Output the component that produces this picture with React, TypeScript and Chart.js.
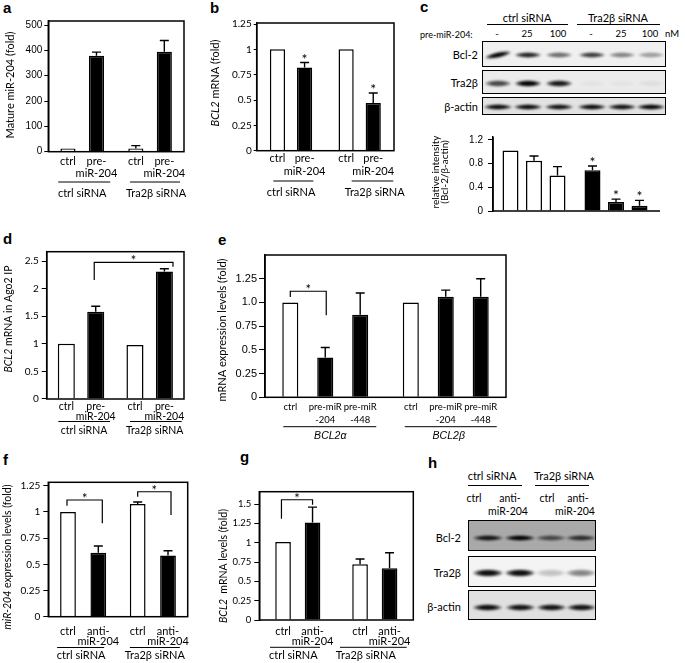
import React, { useEffect, useRef } from 'react';
import { Chart, registerables } from 'chart.js';
Chart.register(...registerables);

const PAGE_W = 685;
const PAGE_H = 663;
const SANS = 'Lato, "Open Sans", sans-serif';
const ARIAL = '"Liberation Sans", Arial, sans-serif';
const Y_AXIS_W = 40;

// ================= DATA =================
const siRNAGroups = ['ctrl siRNA', 'Tra2β siRNA'];

// panel a
const aCtrlValues = [13, 13];
const aCtrlErrors = [0, 11];
const aPreValues = [379, 395];
const aPreErrors = [14, 44];
const aTicks = [0, 100, 200, 300, 400, 500];
const aTickLabels = ['0', '100', '200', '300', '400', '500'];

// panel b
const bCtrlValues = [1.0, 1.0];
const bPreValues = [0.82, 0.47];
const bPreErrors = [0.05, 0.1];
const bPreSignif = [true, true];
const bTicks = [0, 0.25, 0.5, 0.75, 1, 1.25];
const bTickLabels = ['0', '0.25', '0.5', '0.75', '1', '1.25'];

// panel c (densitometry + blots)
const cLaneDoses = ['-', '25', '100', '-', '25', '100'];
const cDose0Values = [1.02, 0.69];
const cDose0Errors = [0, 0.07];
const cDose25Values = [0.85, 0.15];
const cDose25Errors = [0.08, 0.05];
const cDose100Values = [0.6, 0.09];
const cDose100Errors = [0.15, 0.09];
const cSignif = [false, true];
const cTicks = [0, 0.4, 0.8, 1.2];
const cTickLabels = ['0', '0.4', '0.8', '1.2'];
const cBcl2Bands = [1.0, 0.85, 0.55, 0.75, 0.45, 0.35];
const cTra2bBands = [0.7, 1.0, 0.9, 0.03, 0.03, 0.05];
const cActinBands = [0.95, 0.95, 0.92, 0.95, 0.92, 0.97];

// panel d
const dCtrlValues = [1.0, 0.98];
const dPreValues = [1.58, 2.31];
const dPreErrors = [0.1, 0.05];
const dTicks = [0, 0.5, 1, 1.5, 2, 2.5];
const dTickLabels = ['0', '0.5', '1', '1.5', '2', '2.5'];

// panel e
const eGroups = ['BCL2α', 'BCL2β'];
const eCtrlValues = [1.0, 1.0];
const ePre204Values = [0.42, 1.06];
const ePre204Errors = [0.105, 0.07];
const ePre448Values = [0.87, 1.06];
const ePre448Errors = [0.23, 0.19];
const eTicks = [0, 0.25, 0.5, 0.75, 1.0, 1.25];
const eTickLabels = ['0', '0.25', '0.5', '0.75', '1.0', '1.25'];

// panel f
const fCtrlValues = [1.0, 1.075];
const fCtrlErrors = [0, 0.02];
const fAntiValues = [0.61, 0.585];
const fAntiErrors = [0.065, 0.045];
const fTicks = [0, 0.25, 0.5, 0.75, 1, 1.25];
const fTickLabels = ['0', '0.25', '0.5', '0.75', '1', '1.25'];

// panel g
const gCtrlValues = [1.01, 0.72];
const gCtrlErrors = [0, 0.07];
const gAntiValues = [1.26, 0.67];
const gAntiErrors = [0.2, 0.2];
const gTicks = [0, 0.25, 0.5, 0.75, 1, 1.25, 1.5];
const gTickLabels = ['0', '0.25', '0.5', '0.75', '1', '1.25', '1.5'];

// panel h (blots)
const hBcl2Bands = [0.9, 1.0, 0.6, 0.75];
const hTra2bBands = [0.95, 0.95, 0.2, 0.45];
const hActinBands = [0.95, 0.92, 0.92, 0.92];

// ================= TYPES =================
type Seg = { t: string; i?: boolean };
type SeriesCfg = {
  values: number[];
  errors?: number[];
  fill: string | string[];
  label?: string[];
  stars?: boolean[];
};
type Bracket = { a: [number, number, number]; b: [number, number, number]; yA: number; yTop: number; yB: number };
type PanelCfg = {
  plot: [number, number, number, number];
  yMax: number;
  ticks: number[];
  tickLabels: string[];
  tickFont: string;
  tickSize: number;
  tickLen: number;
  tickPad: number;
  groups: string[];
  groupItalic?: boolean;
  groupFont?: string;
  series: SeriesCfg[];
  catPct: number;
  barPct: number;
  labelY?: number[];
  labelSize?: number;
  groupSize?: number;
  groupLineY?: number;
  groupLabelY?: number;
  groupLines?: [number, number][];
  groupDx?: number[];
  frame: 'box' | 'axes';
  axisRight?: number;
  brackets?: Bracket[];
  yTitle: { x: number; y: number; lines: Seg[][]; gap?: number; size: number };
  cap?: number;
};

// ================= PANEL CONFIGS =================
const panelA: PanelCfg = {
  plot: [48.3, 21, 184, 151.7],
  yMax: 516, ticks: aTicks, tickLabels: aTickLabels, tickFont: ARIAL, tickSize: 10, tickLen: 4, tickPad: 2,
  groups: siRNAGroups,
  series: [
    { values: aCtrlValues, errors: aCtrlErrors, fill: '#fff', label: ['ctrl'] },
    { values: aPreValues, errors: aPreErrors, fill: '#000', label: ['pre-', 'miR-204'] },
  ],
  catPct: 0.84, barPct: 0.53,
  labelY: [161.7, 173.3], groupLineY: 182, groupLabelY: 193,
  groupLines: [[-24, 28], [-20, 30]], groupDx: [0, 6],
  frame: 'box',
  yTitle: { x: 10, y: 85, lines: [[{ t: 'Mature miR-204 (fold)' }]], size: 11 },
};

const panelB: PanelCfg = {
  plot: [256.7, 23, 394, 150.7],
  yMax: 1.26, ticks: bTicks, tickLabels: bTickLabels, tickFont: SANS, tickSize: 10, tickLen: 3, tickPad: 2,
  groups: siRNAGroups,
  series: [
    { values: bCtrlValues, fill: '#fff', label: ['ctrl'] },
    { values: bPreValues, errors: bPreErrors, fill: '#000', label: ['pre-', 'miR-204'], stars: bPreSignif },
  ],
  catPct: 0.79, barPct: 0.56,
  labelY: [158.3, 171.7], groupLineY: 181, groupLabelY: 192.7,
  groupLines: [[-17.7, 22.3], [-8, 33.6]], groupDx: [0, 15],
  frame: 'box',
  yTitle: { x: 215, y: 83, lines: [[{ t: 'BCL2', i: true }, { t: ' mRNA (fold)' }]], size: 11 },
};

const panelC: PanelCfg = {
  plot: [493, 137, 657, 211],
  yMax: 1.25, ticks: cTicks, tickLabels: cTickLabels, tickFont: ARIAL, tickSize: 10, tickLen: 5, tickPad: 5,
  groups: siRNAGroups,
  series: [
    { values: cDose0Values, errors: cDose0Errors, fill: ['#fff', '#000'], stars: cSignif },
    { values: cDose25Values, errors: cDose25Errors, fill: ['#fff', '#000'], stars: cSignif },
    { values: cDose100Values, errors: cDose100Errors, fill: ['#fff', '#000'], stars: cSignif },
  ],
  catPct: 0.86, barPct: 0.68,
  frame: 'axes', axisRight: 660,
  yTitle: { x: 436, y: 172, lines: [[{ t: 'relative intensity' }], [{ t: '(Bcl-2/β-actin)' }]], gap: 9, size: 10 },
};

const panelD: PanelCfg = {
  plot: [46.7, 251.7, 184, 399],
  yMax: 2.67, ticks: dTicks, tickLabels: dTickLabels, tickFont: SANS, tickSize: 10, tickLen: 5, tickPad: 3,
  groups: siRNAGroups,
  series: [
    { values: dCtrlValues, fill: '#fff', label: ['ctrl'] },
    { values: dPreValues, errors: dPreErrors, fill: '#000', label: ['pre-', 'miR-204'] },
  ],
  catPct: 0.857, barPct: 0.58,
  labelY: [406.7, 416.7], labelSize: 10.5, groupLineY: 421.5, groupLabelY: 430.7,
  groupLines: [[-22.7, 29], [-19.7, 32]], groupDx: [3, 5],
  frame: 'box',
  brackets: [{ a: [0, 1, -1.5], b: [1, 1, 8.6], yA: 2.156, yTop: 2.476, yB: 2.397 }],
  yTitle: { x: 9, y: 319, lines: [[{ t: 'BCL2', i: true }, { t: ' mRNA in Ago2 IP' }]], size: 10.5 },
};

const panelE: PanelCfg = {
  plot: [265, 255, 506, 397.3],
  yMax: 1.5, ticks: eTicks, tickLabels: eTickLabels, tickFont: ARIAL, tickSize: 11, tickLen: 6, tickPad: 2,
  groups: eGroups, groupItalic: true, groupFont: ARIAL,
  series: [
    { values: eCtrlValues, fill: '#fff', label: ['ctrl'] },
    { values: ePre204Values, errors: ePre204Errors, fill: '#000', label: ['pre-miR', '-204'] },
    { values: ePre448Values, errors: ePre448Errors, fill: '#000', label: ['pre-miR', '-448'] },
  ],
  catPct: 0.87, barPct: 0.46,
  labelY: [406.7, 420], labelSize: 9.5, groupSize: 10.5, groupLineY: 426.7, groupLabelY: 436,
  groupLines: [[-42, 51], [-41, 51]], groupDx: [5, 3],
  frame: 'box',
  brackets: [{ a: [0, 0, 0], b: [0, 1, 1], yA: 1.056, yTop: 1.118, yB: 0.864 }],
  yTitle: { x: 222, y: 330, lines: [[{ t: 'mRNA expression levels (fold)' }]], size: 11 },
};

const panelF: PanelCfg = {
  plot: [48.3, 482.3, 187.7, 616.7],
  yMax: 1.283, ticks: fTicks, tickLabels: fTickLabels, tickFont: SANS, tickSize: 10, tickLen: 5, tickPad: 3,
  groups: siRNAGroups,
  series: [
    { values: fCtrlValues, errors: fCtrlErrors, fill: '#fff', label: ['ctrl'] },
    { values: fAntiValues, errors: fAntiErrors, fill: '#000', label: ['anti-', 'miR-204'] },
  ],
  catPct: 0.87, barPct: 0.52,
  labelY: [631.7, 641.7], groupLineY: 647.5, groupLabelY: 655.5,
  groupLines: [[-26, 21], [-23, 27]], groupDx: [-2, 2],
  frame: 'box',
  brackets: [
    { a: [0, 0, -1], b: [0, 1, 4], yA: 1.059, yTop: 1.114, yB: 0.891 },
    { a: [1, 0, 0], b: [1, 1, 3], yA: 1.145, yTop: 1.193, yB: 0.97 },
  ],
  yTitle: { x: 8, y: 557, lines: [[{ t: 'miR-204', i: true }, { t: ' expression levels (fold)' }]], size: 10.5 },
};

const panelG: PanelCfg = {
  plot: [259.3, 491.7, 413.3, 620],
  yMax: 1.66, ticks: gTicks, tickLabels: gTickLabels, tickFont: SANS, tickSize: 9.5, tickLen: 5, tickPad: 3,
  groups: siRNAGroups,
  series: [
    { values: gCtrlValues, errors: gCtrlErrors, fill: '#fff', label: ['ctrl'] },
    { values: gAntiValues, errors: gAntiErrors, fill: '#000', label: ['anti-', 'miR-204'] },
  ],
  catPct: 0.766, barPct: 0.53,
  labelY: [631.7, 641.7], groupLineY: 647.3, groupLabelY: 655.5,
  groupLines: [[-27.8, 22.2], [-34.8, 31.9]], groupDx: [-4.5, -9],
  frame: 'box',
  brackets: [{ a: [0, 0, -1.6], b: [0, 1, 0], yA: 1.31, yTop: 1.556, yB: 1.49 }],
  yTitle: { x: 224, y: 566, lines: [[{ t: 'BCL2', i: true }, { t: '  mRNA levels (fold)' }]], size: 10.5 },
};

// ================= CHART PANEL =================
function BarPanel({ cfg }: { cfg: PanelCfg }) {
  const ref = useRef<HTMLCanvasElement>(null);
  useEffect(() => {
    const [pl, pt, pr, pb] = cfg.plot;
    const decor = {
      id: 'panelDecor',
      afterDatasetsDraw(chart: any) {
        const ctx: CanvasRenderingContext2D = chart.ctx;
        const ca = chart.chartArea;
        const ys = chart.scales.y;
        const xs = chart.scales.x;
        const cap = cfg.cap ?? 4.5;
        ctx.save();
        ctx.strokeStyle = '#000';
        ctx.fillStyle = '#000';
        // frame
        ctx.lineWidth = 1.5;
        if (cfg.frame === 'box') {
          ctx.strokeRect(ca.left, ca.top, ca.right - ca.left, ca.bottom - ca.top);
        } else {
          ctx.beginPath();
          ctx.moveTo(ca.left, ca.top);
          ctx.lineTo(ca.left, ca.bottom);
          ctx.lineTo(cfg.axisRight ?? ca.right, ca.bottom);
          ctx.stroke();
        }
        // error bars, stars, bar labels
        cfg.series.forEach((s, si) => {
          const meta = chart.getDatasetMeta(si);
          s.values.forEach((v, i) => {
            const el: any = meta.data[i];
            const x = el.x;
            const err = s.errors ? s.errors[i] : 0;
            const yTop = ys.getPixelForValue(v + err);
            if (err > 0) {
              ctx.lineWidth = 1.4;
              ctx.beginPath();
              ctx.moveTo(x, ys.getPixelForValue(v));
              ctx.lineTo(x, yTop);
              ctx.moveTo(x - cap, yTop);
              ctx.lineTo(x + cap, yTop);
              ctx.stroke();
            }
            if (s.stars && s.stars[i]) {
              ctx.font = `14px ${SANS}`;
              ctx.textAlign = 'center';
              ctx.textBaseline = 'alphabetic';
              ctx.fillText('*', x, yTop + 1);
            }
            if (s.label && cfg.labelY) {
              ctx.font = `${cfg.labelSize ?? 11}px ${SANS}`;
              ctx.textAlign = 'center';
              ctx.textBaseline = 'middle';
              s.label.forEach((ln, li) => ctx.fillText(ln, x, cfg.labelY![li]));
            }
          });
        });
        // group lines + labels
        if (cfg.groupLines && cfg.groupLineY !== undefined) {
          cfg.groups.forEach((g, gi) => {
            const cx = xs.getPixelForValue(gi);
            const [d0, d1] = cfg.groupLines![gi];
            ctx.lineWidth = 1;
            ctx.beginPath();
            ctx.moveTo(cx + d0, cfg.groupLineY!);
            ctx.lineTo(cx + d1, cfg.groupLineY!);
            ctx.stroke();
            ctx.font = `${cfg.groupItalic ? 'italic ' : ''}${cfg.groupSize ?? cfg.labelSize ?? 11}px ${cfg.groupFont ?? SANS}`;
            ctx.textAlign = 'center';
            ctx.textBaseline = 'middle';
            ctx.fillText(g, cx + (cfg.groupDx ? cfg.groupDx[gi] : 0), cfg.groupLabelY!);
          });
        }
        // significance brackets
        (cfg.brackets || []).forEach((b) => {
          const xa = chart.getDatasetMeta(b.a[1]).data[b.a[0]].x + b.a[2];
          const xb = chart.getDatasetMeta(b.b[1]).data[b.b[0]].x + b.b[2];
          const yt = ys.getPixelForValue(b.yTop);
          ctx.lineWidth = 1.2;
          ctx.beginPath();
          ctx.moveTo(xa, ys.getPixelForValue(b.yA));
          ctx.lineTo(xa, yt);
          ctx.lineTo(xb, yt);
          ctx.lineTo(xb, ys.getPixelForValue(b.yB));
          ctx.stroke();
          ctx.font = `13px ${SANS}`;
          ctx.textAlign = 'center';
          ctx.textBaseline = 'alphabetic';
          ctx.fillText('*', (xa + xb) / 2, yt + 3);
        });
        // y title (rotated, mixed italic)
        const t = cfg.yTitle;
        ctx.translate(t.x, t.y);
        ctx.rotate(-Math.PI / 2);
        ctx.textBaseline = 'middle';
        ctx.textAlign = 'left';
        t.lines.forEach((segs, li) => {
          const fontOf = (s: Seg) => `${s.i ? 'italic ' : ''}${t.size}px ${SANS}`;
          let total = 0;
          segs.forEach((s) => {
            ctx.font = fontOf(s);
            total += ctx.measureText(s.t).width;
          });
          let cur = -total / 2;
          segs.forEach((s) => {
            ctx.font = fontOf(s);
            ctx.fillText(s.t, cur, li * (t.gap ?? 10));
            cur += ctx.measureText(s.t).width;
          });
        });
        ctx.restore();
      },
    };
    const chart = new Chart(ref.current as HTMLCanvasElement, {
      type: 'bar',
      data: {
        labels: cfg.groups,
        datasets: cfg.series.map((s) => ({
          data: s.values,
          backgroundColor: s.fill as any,
          borderColor: '#000',
          borderWidth: 1.5,
          borderSkipped: 'bottom' as any,
          categoryPercentage: cfg.catPct,
          barPercentage: cfg.barPct,
        })),
      },
      options: {
        responsive: false,
        animation: false,
        events: [],
        layout: {
          autoPadding: false,
          padding: { left: pl - Y_AXIS_W, top: pt, right: PAGE_W - pr, bottom: PAGE_H - pb },
        },
        plugins: { legend: { display: false }, tooltip: { enabled: false }, title: { display: false } },
        scales: {
          x: { display: false, offset: true },
          y: {
            min: 0,
            max: cfg.yMax,
            afterFit: (s: any) => {
              s.width = Y_AXIS_W;
            },
            afterBuildTicks: (s: any) => {
              s.ticks = cfg.ticks.map((v) => ({ value: v }));
            },
            grid: { drawOnChartArea: false, drawTicks: true, tickLength: cfg.tickLen, color: '#000', lineWidth: 1 },
            border: { display: true, color: '#000', width: 1.5 },
            ticks: {
              padding: cfg.tickPad,
              color: '#000',
              autoSkip: false,
              font: { family: cfg.tickFont, size: cfg.tickSize },
              callback: (v: any) => {
                const i = cfg.ticks.findIndex((tv) => Math.abs(tv - Number(v)) < 1e-9);
                return i >= 0 ? cfg.tickLabels[i] : '';
              },
            },
          },
        },
      } as any,
      plugins: [decor],
    });
    return () => chart.destroy();
  }, [cfg]);
  return (
    <canvas
      ref={ref}
      width={PAGE_W}
      height={PAGE_H}
      style={{ position: 'absolute', left: 0, top: 0, width: PAGE_W, height: PAGE_H }}
    />
  );
}

// ================= HTML HELPERS (blots, labels) =================
function Txt(props: {
  x: number; y: number; children: React.ReactNode; align?: 'left' | 'center' | 'right';
  size?: number; family?: string; italic?: boolean; bold?: boolean;
}) {
  const { x, y, children, align = 'center', size = 11, family = SANS, italic, bold } = props;
  const tx = align === 'center' ? '-50%' : align === 'right' ? '-100%' : '0';
  return (
    <div
      style={{
        position: 'absolute', left: x, top: y, transform: `translate(${tx}, -50%)`,
        fontFamily: family, fontSize: size, lineHeight: 1, whiteSpace: 'nowrap',
        fontStyle: italic ? 'italic' : 'normal', fontWeight: bold ? 'bold' : 'normal', color: '#000',
      }}
    >
      {children}
    </div>
  );
}

function Letter({ x, baseline, ch }: { x: number; baseline: number; ch: string }) {
  return (
    <div
      style={{
        position: 'absolute', left: x, top: baseline - 12.7, fontFamily: ARIAL, fontWeight: 'bold',
        fontSize: 15, lineHeight: '15px', color: '#000',
      }}
    >
      {ch}
    </div>
  );
}

function HLine({ x1, x2, y }: { x1: number; x2: number; y: number }) {
  return <div style={{ position: 'absolute', left: x1, top: y - 0.5, width: x2 - x1, height: 1, background: '#000' }} />;
}

function Blot(props: {
  x: number; y: number; w: number; h: number; bg: string; lanes: number[]; bands: number[];
  bandY: number; bandW: number; bandH: number; tilt?: number[];
}) {
  const { x, y, w, h, bg, lanes, bands, bandY, bandW, bandH, tilt } = props;
  return (
    <div
      style={{
        position: 'absolute', left: x, top: y, width: w, height: h, background: bg,
        border: '1.5px solid #000', boxSizing: 'border-box', overflow: 'hidden',
      }}
    >
      {bands.map((a, i) => (
        <div
          key={i}
          style={{
            position: 'absolute', left: lanes[i] - bandW / 2, top: bandY - bandH / 2, width: bandW, height: bandH,
            borderRadius: '50%',
            transform: tilt && tilt[i] ? `rotate(${tilt[i]}deg)` : undefined,
            background: `radial-gradient(ellipse closest-side, rgba(0,0,0,${a}) 45%, rgba(0,0,0,${a * 0.6}) 75%, rgba(0,0,0,0) 100%)`,
            filter: 'blur(0.8px)',
          }}
        />
      ))}
    </div>
  );
}

const cLanes = [15, 45, 76, 109, 139, 168];
const hLanes = [18.7, 51, 82, 112];

export default function App() {
  return (
    <div style={{ position: 'absolute', left: 0, top: 0, width: PAGE_W, height: PAGE_H, background: '#fff' }}>
      {/* panel letters */}
      <Letter x={3} baseline={12.5} ch="a" />
      <Letter x={210} baseline={12.7} ch="b" />
      <Letter x={420} baseline={12} ch="c" />
      <Letter x={3} baseline={244} ch="d" />
      <Letter x={218} baseline={245} ch="e" />
      <Letter x={3} baseline={465} ch="f" />
      <Letter x={240} baseline={462} ch="g" />
      <Letter x={428} baseline={468} ch="h" />

      {/* panel c blot header */}
      <Txt x={527} y={17}>ctrl siRNA</Txt>
      <HLine x1={487} x2={568} y={24} />
      <Txt x={618} y={17}>Tra2β siRNA</Txt>
      <HLine x1={577} x2={660} y={24} />
      <Txt x={420} y={34} align="left" size={9}>pre-miR-204:</Txt>
      {cLaneDoses.map((d, i) => (
        <Txt key={i} x={482 + cLanes[i]} y={34} size={9.5}>{d}</Txt>
      ))}
      <Txt x={672} y={34} size={9.5}>nM</Txt>
      <Txt x={478} y={54} align="right">Bcl-2</Txt>
      <Txt x={478} y={82} align="right">Tra2β</Txt>
      <Txt x={478} y={106} align="right">β-actin</Txt>
      <Blot x={482} y={41} w={184} h={26} bg="#f0f0f0" lanes={cLanes} bands={cBcl2Bands} bandY={13} bandW={28} bandH={6} tilt={[-12, 0, 0, 0, 0, 0]} />
      <Blot x={482} y={70} w={184} h={24} bg="#ebebeb" lanes={cLanes} bands={cTra2bBands} bandY={12} bandW={28} bandH={7} />
      <Blot x={482} y={97} w={184} h={18} bg="#e2e2e2" lanes={cLanes} bands={cActinBands} bandY={9} bandW={30} bandH={6} />

      {/* panel h blots */}
      <Txt x={492} y={475}>ctrl siRNA</Txt>
      <HLine x1={468} x2={522} y={485} />
      <Txt x={564} y={475}>Tra2β siRNA</Txt>
      <HLine x1={535} x2={589} y={485} />
      <Txt x={474} y={498} size={10.5}>ctrl</Txt>
      <Txt x={510} y={498} size={10.5}>anti-</Txt>
      <Txt x={508} y={511} size={10.5}>miR-204</Txt>
      <Txt x={547} y={498} size={10.5}>ctrl</Txt>
      <Txt x={578} y={498} size={10.5}>anti-</Txt>
      <Txt x={575} y={511} size={10.5}>miR-204</Txt>
      <Txt x={461} y={537} align="right">Bcl-2</Txt>
      <Txt x={461} y={572} align="right">Tra2β</Txt>
      <Txt x={461} y={606} align="right">β-actin</Txt>
      <Blot x={468} y={520} w={128} h={31} bg="#a9a9a9" lanes={hLanes} bands={hBcl2Bands} bandY={17} bandW={32} bandH={6} />
      <Blot x={468} y={556} w={128} h={31} bg="#f4f4f4" lanes={hLanes} bands={hTra2bBands} bandY={16} bandW={32} bandH={8} />
      <Blot x={468} y={590} w={128} h={30} bg="#e0e0e0" lanes={hLanes} bands={hActinBands} bandY={16} bandW={31} bandH={7} />

      {/* charts */}
      <BarPanel cfg={panelA} />
      <BarPanel cfg={panelB} />
      <BarPanel cfg={panelC} />
      <BarPanel cfg={panelD} />
      <BarPanel cfg={panelE} />
      <BarPanel cfg={panelF} />
      <BarPanel cfg={panelG} />
    </div>
  );
}
